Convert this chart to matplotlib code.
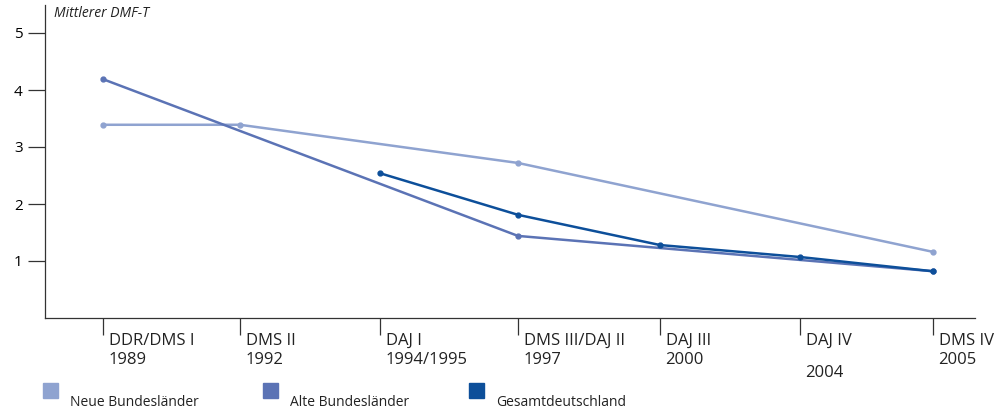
import matplotlib

matplotlib.use("Agg")
import matplotlib.pyplot as plt
from matplotlib.patches import Rectangle

surveys = ["DDR/DMS I", "DMS II", "DAJ I", "DMS III/DAJ II", "DAJ III", "DAJ IV", "DMS IV"]
years = ["1989", "1992", "1994/1995", "1997", "2000", "2004", "2005"]
neue_x = [0, 1, 3, 6]
neue_y = [3.39, 3.39, 2.72, 1.16]
alte_x = [0, 3, 6]
alte_y = [4.19, 1.44, 0.82]
gesamt_x = [2, 3, 4, 5, 6]
gesamt_y = [2.54, 1.81, 1.28, 1.07, 0.82]
yticks = [1, 2, 3, 4, 5]

C_NEUE, C_ALTE, C_GES = "#8fa3d0", "#5b73b5", "#0d4f9a"
plt.rcParams["font.family"] = ["Open Sans", "DejaVu Sans"]

fig = plt.figure(figsize=(10.02, 4.12), dpi=100)
ax = fig.add_axes([45 / 1002, 94 / 412, 930 / 1002, 313.5 / 412])
xpos = [103, 240, 380, 518, 660, 800, 933]
to_data = lambda px: (px - 45) / 930 * 10
xs = [to_data(p) for p in xpos]
ax.set_xlim(0, 10)
ax.set_ylim(0, 5.5)

for idx, yv, c in [(neue_x, neue_y, C_NEUE), (alte_x, alte_y, C_ALTE), (gesamt_x, gesamt_y, C_GES)]:
    ax.plot([xs[i] for i in idx], yv, color=c, lw=1.8, marker="o", ms=3.5, clip_on=False)

for s in ["top", "right"]:
    ax.spines[s].set_visible(False)
for s in ["left", "bottom"]:
    ax.spines[s].set_color("#333333")
    ax.spines[s].set_linewidth(0.9)
ax.set_yticks(yticks)
ax.set_yticklabels([str(t) for t in yticks], fontsize=11)
ax.tick_params(axis="y", length=12, width=0.9, color="#333333", pad=4)
ax.set_xticks(xs)
ax.set_xticklabels([])
ax.tick_params(axis="x", length=12, width=0.9, color="#333333")
for i, (x, lab, yr) in enumerate(zip(xs, surveys, years)):
    ax.text(x + 0.06, -0.26, lab, ha="left", va="top", fontsize=12, color="#222222")
    yy = -0.82 if i == 5 else -0.6
    ax.text(x + 0.06, yy, yr, ha="left", va="top", fontsize=12, color="#222222")

ax.text(0.1, 5.35, "Mittlerer DMF-T", style="italic", fontsize=10, color="#222222", va="center")

legend = [("Neue Bundesländer", C_NEUE, 43), ("Alte Bundesländer", C_ALTE, 263), ("Gesamtdeutschland", C_GES, 469)]
for label, c, px in legend:
    fig.patches.append(Rectangle((px / 1002, 14 / 412), 15 / 1002, 15 / 412, color=c,
                                 transform=fig.transFigure))
    fig.text((px + 27) / 1002, 9 / 412, label, fontsize=10, color="#222222", va="center")

fig.savefig("out.png", dpi=100)
